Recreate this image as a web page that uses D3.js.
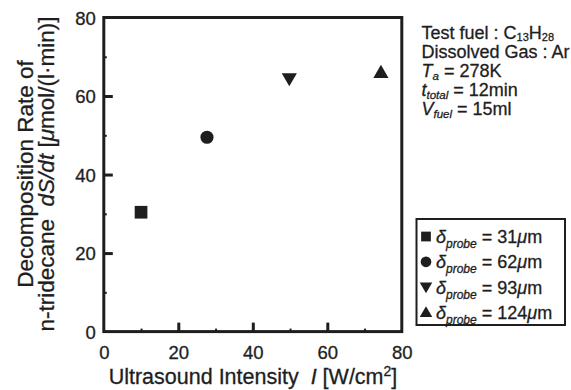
<!DOCTYPE html>
<html>
<head>
<meta charset="utf-8">
<script src="https://cdn.jsdelivr.net/npm/d3@7/dist/d3.min.js"></script>
<style>
  html, body { margin: 0; padding: 0; background: #fff; }
  svg { display: block; font-family: "Liberation Sans", Arial, Helvetica, sans-serif; }
  svg text { stroke: #1e1e1e; stroke-width: 0.3px; }
</style>
</head>
<body>
<svg id="chart" width="571" height="390"></svg>
<script>
// Decomposition rate of n-tridecane vs. ultrasound intensity, one point per probe amplitude
const intensity = [10, 27.7, 49.8, 74.4];            // I [W/cm2]
const rate = [30.4, 49.5, 64.7, 65.7];               // dS/dt [umol/(l min)]
const probeAmplitude = ["31", "62", "93", "124"];    // delta_probe [um]
const markerShapes = ["square", "circle", "down", "up"];
const xTicks = [0, 20, 40, 60, 80];
const yTicks = [0, 20, 40, 60, 80];
const minorTicks = [10, 30, 50, 70];

const ink = "#1e1e1e";
const svg = d3.select("#chart");

const x = d3.scaleLinear().domain([0, 80]).range([103.8, 401.8]);
const y = d3.scaleLinear().domain([0, 80]).range([331.6, 17.5]);

function symbolPath(shape, size) {
  if (shape === "square") return d3.symbol(d3.symbolSquare, size)();
  if (shape === "circle") return d3.symbol(d3.symbolCircle, size)();
  return d3.symbol(d3.symbolTriangle, size)();
}
function symbolRotation(shape) { return shape === "down" ? 180 : 0; }

// Frame
svg.append("rect")
  .attr("x", x(0)).attr("y", y(80))
  .attr("width", x(80) - x(0)).attr("height", y(0) - y(80))
  .attr("fill", "none").attr("stroke", ink).attr("stroke-width", 3);

// Bottom axis: inward ticks
const xAxis = d3.axisBottom(x).tickValues(xTicks).tickSize(-9).tickPadding(0).tickFormat(d3.format("d"));
const gx = svg.append("g").attr("transform", `translate(0,${y(0)})`).call(xAxis);
gx.select(".domain").remove();
gx.selectAll(".tick line").attr("stroke", ink).attr("stroke-width", 3);
gx.selectAll(".tick text").attr("fill", ink).attr("font-size", 18.5).attr("dy", null).attr("y", 27.5);
gx.selectAll(".tick").filter(d => d === 0 || d === 80).select("line").remove();

const gxm = svg.append("g").attr("transform", `translate(0,${y(0)})`)
  .call(d3.axisBottom(x).tickValues(minorTicks).tickSize(-3).tickFormat(""));
gxm.select(".domain").remove();
gxm.selectAll(".tick line").attr("stroke", ink).attr("stroke-width", 2);

// Left axis: inward ticks
const yAxis = d3.axisLeft(y).tickValues(yTicks).tickSize(-9).tickPadding(0).tickFormat(d3.format("d"));
const gy = svg.append("g").attr("transform", `translate(${x(0)},0)`).call(yAxis);
gy.select(".domain").remove();
gy.selectAll(".tick line").attr("stroke", ink).attr("stroke-width", 3);
gy.selectAll(".tick text").attr("fill", ink).attr("font-size", 18.5).attr("x", -8).attr("dy", "0.36em");
gy.selectAll(".tick").filter(d => d === 0 || d === 80).select("line").remove();

const gym = svg.append("g").attr("transform", `translate(${x(0)},0)`)
  .call(d3.axisLeft(y).tickValues(minorTicks).tickSize(-3).tickFormat(""));
gym.select(".domain").remove();
gym.selectAll(".tick line").attr("stroke", ink).attr("stroke-width", 2);

// Data points
const sizes = { square: 161, circle: 135, down: 100, up: 100 };
svg.append("g").selectAll("path")
  .data(intensity.map((v, i) => ({ x: v, y: rate[i], shape: markerShapes[i] })))
  .join("path")
  .attr("d", d => symbolPath(d.shape, sizes[d.shape]))
  .attr("transform", d => `translate(${x(d.x)},${y(d.y)}) rotate(${symbolRotation(d.shape)})`)
  .attr("fill", ink);

// X axis title
const xt = svg.append("text").attr("x", 253).attr("y", 383.5).attr("text-anchor", "middle")
  .attr("font-size", 21.5).attr("fill", ink);
xt.append("tspan").text("Ultrasound Intensity\u00a0\u00a0");
xt.append("tspan").attr("font-style", "italic").text("I");
xt.append("tspan").text(" [W/cm");
xt.append("tspan").attr("font-size", 14).attr("dy", -8).text("2");
xt.append("tspan").attr("dy", 8).text("]");

// Y axis title, two lines
const yl = svg.append("g").attr("transform", "translate(0,174) rotate(-90)");
yl.append("text").attr("x", 0).attr("y", 32.5).attr("text-anchor", "middle")
  .attr("font-size", 22.5).attr("fill", ink).text("Decomposition Rate of");
const yl2 = yl.append("text").attr("x", 0).attr("y", 54).attr("text-anchor", "middle")
  .attr("font-size", 22.5).attr("fill", ink);
yl2.append("tspan").text("n-tridecane\u00a0\u00a0");
yl2.append("tspan").attr("font-style", "italic").text("dS/dt");
yl2.append("tspan").text(" [");
yl2.append("tspan").attr("font-style", "italic").text("\u03bc");
yl2.append("tspan").text("mol/(l\u00b7min)]");

// Experimental conditions
const noteX = 421.5;
const notes = svg.append("g").attr("font-size", 18).attr("fill", ink);
function noteLine(yPos) { return notes.append("text").attr("x", noteX).attr("y", yPos); }
let t = noteLine(38.5);
t.append("tspan").text("Test fuel : C");
t.append("tspan").attr("font-size", 11).attr("dy", 2.5).text("13");
t.append("tspan").attr("dy", -2.5).text("H");
t.append("tspan").attr("font-size", 11).attr("dy", 2.5).text("28");
noteLine(58).text("Dissolved Gas : Ar");
t = noteLine(76.5);
t.append("tspan").attr("font-style", "italic").text("T");
t.append("tspan").attr("font-style", "italic").attr("font-size", 11.5).attr("dy", 3).text("a");
t.append("tspan").attr("dy", -3).text(" = 278K");
t = noteLine(96);
t.append("tspan").attr("font-style", "italic").text("t");
t.append("tspan").attr("font-style", "italic").attr("font-size", 11.5).attr("dy", 3).text("total");
t.append("tspan").attr("dy", -3).text(" = 12min");
t = noteLine(115);
t.append("tspan").attr("font-style", "italic").text("V");
t.append("tspan").attr("font-style", "italic").attr("font-size", 11.5).attr("dy", 3).text("fuel");
t.append("tspan").attr("dy", -3).text(" = 15ml");

// Legend
const legend = svg.append("g");
legend.append("rect").attr("x", 416.5).attr("y", 219).attr("width", 148.5).attr("height", 106)
  .attr("fill", "#fff").attr("stroke", ink).attr("stroke-width", 2);
const legendSizes = { square: 95, circle: 90, down: 68, up: 68 };
const rows = legend.selectAll("g.row")
  .data(probeAmplitude.map((p, i) => ({ p, shape: markerShapes[i], i })))
  .join("g").attr("class", "row")
  .attr("transform", d => `translate(0,${236.5 + d.i * 25.3})`);
rows.append("path")
  .attr("d", d => symbolPath(d.shape, legendSizes[d.shape]))
  .attr("transform", d => `translate(426,${d.shape === "down" ? -1 : d.shape === "up" ? 1 : 0}) rotate(${symbolRotation(d.shape)})`)
  .attr("fill", ink);
const lt = rows.append("text").attr("x", 436).attr("y", 6.5).attr("font-size", 18).attr("fill", ink);
lt.append("tspan").attr("font-style", "italic").text("\u03b4");
lt.append("tspan").attr("font-style", "italic").attr("font-size", 12).attr("dy", 5).text("probe");
lt.append("tspan").attr("dy", -5).text(" = ");
lt.append("tspan").text(d => d.p);
lt.append("tspan").attr("font-style", "italic").text("\u03bc");
lt.append("tspan").text("m");
</script>
</body>
</html>
